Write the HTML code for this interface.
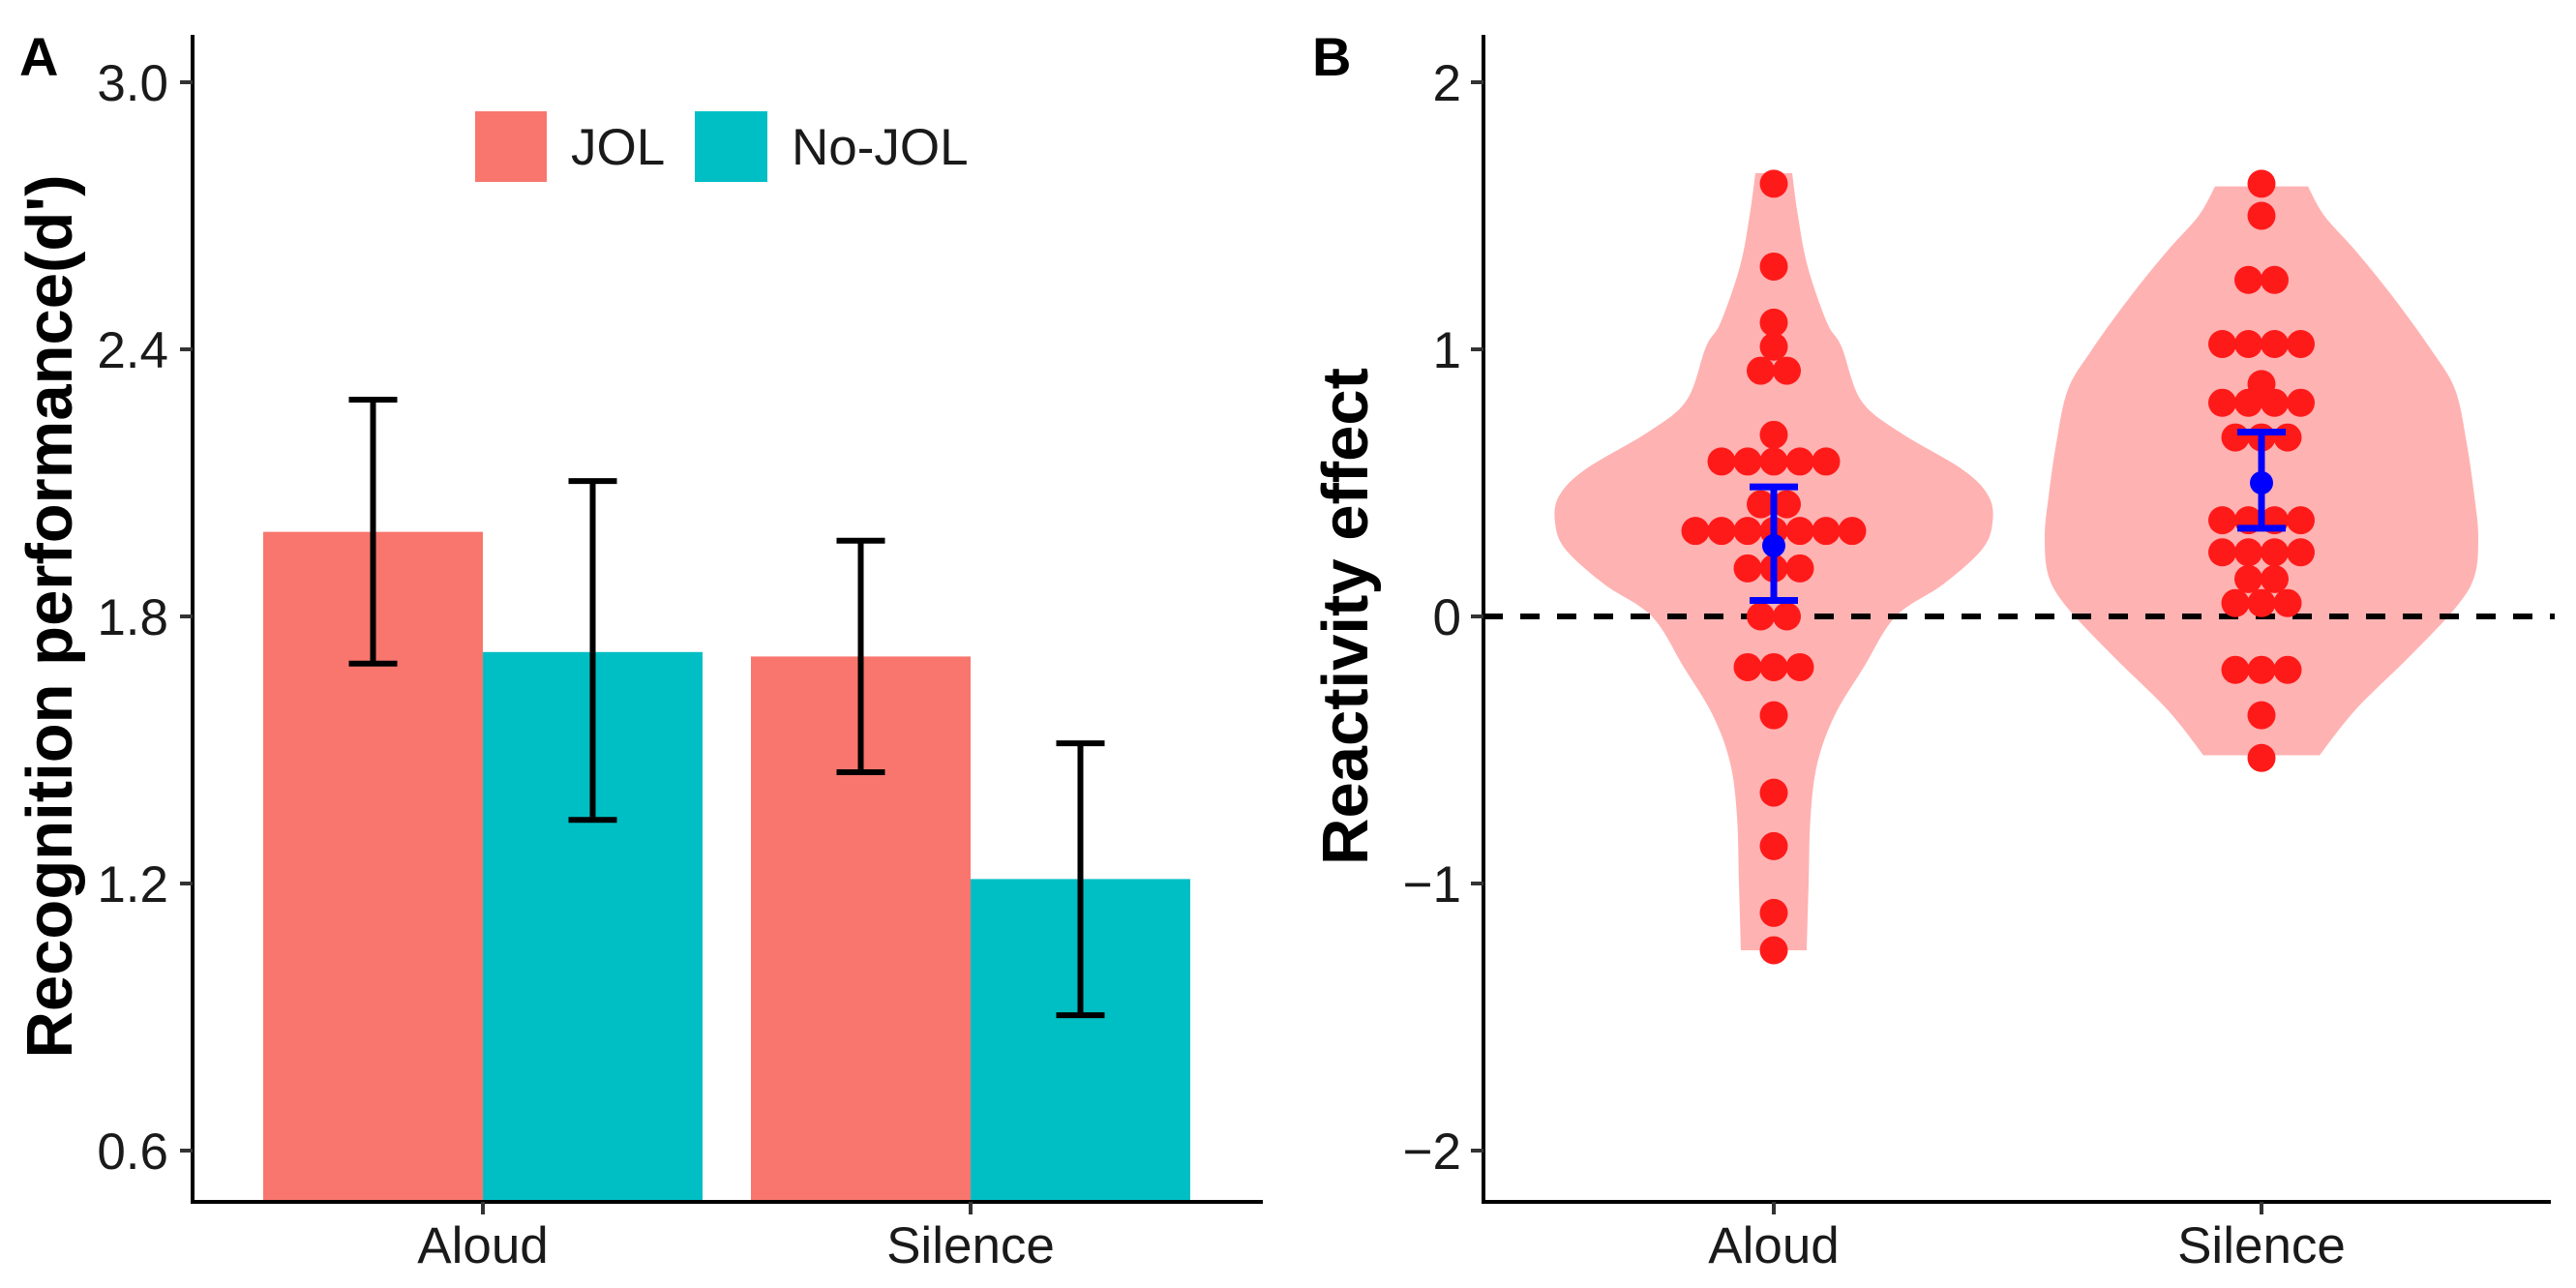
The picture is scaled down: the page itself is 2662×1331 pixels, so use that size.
<!DOCTYPE html>
<html><head><meta charset="utf-8"><style>
html,body{margin:0;padding:0;background:#fff;}
svg{display:block;font-family:"Liberation Sans",sans-serif;}
</style></head><body>
<svg id="fig" width="2662" height="1331" viewBox="0 0 2662 1331" xmlns="http://www.w3.org/2000/svg">
<g id="pa"></g>
<g id="pb"></g>
</svg>
<script>
// ---------- Panel A data ----------
const catsA = ["Aloud", "Silence"];
const seriesNames = ["JOL", "No-JOL"];
const jolVals = [1.99, 1.71];
const nojolVals = [1.72, 1.21];
const jolLo = [1.694, 1.45];
const jolHi = [2.287, 1.97];
const nojolLo = [1.343, 0.904];
const nojolHi = [2.104, 1.515];
const ticksA = [0.6, 1.2, 1.8, 2.4, 3.0];
const tickLabelsA = ["0.6", "1.2", "1.8", "2.4", "3.0"];

// ---------- Panel B data ----------
const catsB = ["Aloud", "Silence"];
const aloudDots = [1.62,1.31,1.10,1.01,0.92,0.92,0.68,0.58,0.58,0.58,0.58,0.58,0.42,0.42,0.32,0.32,0.32,0.32,0.32,0.32,0.32,0.18,0.18,0.18,0.0,0.0,-0.19,-0.19,-0.19,-0.37,-0.66,-0.86,-1.11,-1.25];
const silenceDots = [1.62,1.50,1.26,1.26,1.02,1.02,1.02,1.02,0.87,0.80,0.80,0.80,0.80,0.67,0.67,0.67,0.36,0.36,0.36,0.36,0.24,0.24,0.24,0.24,0.14,0.14,0.05,0.05,0.05,-0.20,-0.20,-0.20,-0.37,-0.53];
const means = [0.265, 0.50];
const meanLo = [0.06, 0.33];
const meanHi = [0.485, 0.69];
const aloudViolinY = [1.66,1.5,1.31,1.1,1.01,0.81,0.69,0.55,0.45,0.35,0.25,0.12,0.0,-0.19,-0.37,-0.55,-0.75,-1.0,-1.25];
const aloudViolinW = [19,25,35,55,70,90,130,195,222,226,215,175,126,93,63,45,38,36,34];
const silenceViolinY = [1.61,1.5,1.37,1.2,1.0,0.85,0.65,0.45,0.3,0.15,0.03,-0.15,-0.35,-0.52];
const silenceViolinW = [48,65,97,135,175,200,212,220,224,220,200,153,97,60];
const ticksB = [-2, -1, 0, 1, 2];
const tickLabelsB = ["\u22122", "\u22121", "0", "1", "2"];

const NS = "http://www.w3.org/2000/svg";
function mk(parent, tag, attrs, text) {
  const e = document.createElementNS(NS, tag);
  for (const k in attrs) e.setAttribute(k, attrs[k]);
  if (text !== undefined) e.textContent = text;
  parent.appendChild(e);
  return e;
}
const TXT = "#1a1a1a";

// ---------- Panel A ----------
const pa = document.getElementById("pa");
const yA = v => 637 - (v - 1.8) / 0.6 * 276;
const xCatA = [499, 1003];
const barW = 227;
for (let i = 0; i < catsA.length; i++) {
  const b1 = mk(pa, "rect", {x: xCatA[i] - barW, y: yA(jolVals[i]), width: barW, height: 1242 - yA(jolVals[i]), fill: "#F8766D"});
  
  
  const b2 = mk(pa, "rect", {x: xCatA[i], y: yA(nojolVals[i]), width: barW, height: 1242 - yA(nojolVals[i]), fill: "#00BFC4"});
  
  
}
function errbar(g, cx, lo, hi, yf, col, w, name) {
  const eg = mk(g, "g", {stroke: col, "stroke-width": w, fill: "none"});
  
  
  mk(eg, "line", {x1: cx, x2: cx, y1: yf(lo), y2: yf(hi)});
  mk(eg, "line", {x1: cx - 25, x2: cx + 25, y1: yf(lo), y2: yf(lo)});
  mk(eg, "line", {x1: cx - 25, x2: cx + 25, y1: yf(hi), y2: yf(hi)});
}
for (let i = 0; i < catsA.length; i++) {
  errbar(pa, xCatA[i] - barW / 2, jolLo[i], jolHi[i], yA, "#000", 6, 'errorbar-jol-' + catsA[i].toLowerCase());
  errbar(pa, xCatA[i] + barW / 2, nojolLo[i], nojolHi[i], yA, "#000", 6, 'errorbar-nojol-' + catsA[i].toLowerCase());
}
const axA = mk(pa, "path", {d: "M199,36 V1242 H1305", stroke: "#000", "stroke-width": 4, fill: "none"});


for (let i = 0; i < ticksA.length; i++) {
  const y = yA(ticksA[i]);
  mk(pa, "line", {x1: 186, x2: 199, y1: y, y2: y, stroke: "#333", "stroke-width": 4});
  const t = mk(pa, "text", {x: 174, y: y + 19, "text-anchor": "end", "font-size": 53, fill: TXT}, tickLabelsA[i]);
  
  
}
for (let i = 0; i < catsA.length; i++) {
  mk(pa, "line", {x1: xCatA[i], x2: xCatA[i], y1: 1242, y2: 1255, stroke: "#333", "stroke-width": 4});
  const t = mk(pa, "text", {x: xCatA[i], y: 1305, "text-anchor": "middle", "font-size": 53, fill: TXT}, catsA[i]);
  
  
}
const lg = mk(pa, "g", {});


const s1 = mk(lg, "rect", {x: 491, y: 115, width: 74, height: 73, fill: "#F8766D"});


const l1 = mk(lg, "text", {x: 590, y: 170, "font-size": 53, fill: TXT}, seriesNames[0]);


const s2 = mk(lg, "rect", {x: 718, y: 115, width: 75, height: 73, fill: "#00BFC4"});


const l2 = mk(lg, "text", {x: 818, y: 170, "font-size": 53, fill: TXT}, seriesNames[1]);


const ta = mk(pa, "text", {x: 0, y: 0, transform: "translate(74,637) rotate(-90)", "text-anchor": "middle", "font-size": 67, "font-weight": "bold", fill: "#000"}, "Recognition performance(d')");


const la = mk(pa, "text", {x: 20, y: 78, "font-size": 56, "font-weight": "bold", fill: "#000"}, "A");



// ---------- Panel B ----------
const pb = document.getElementById("pb");
const yB = v => 637 - v * 276;
const xCatB = [1833, 2337];
function smooth(pts) {
  // Catmull-Rom to cubic bezier
  let d = "M" + pts[0][0] + "," + pts[0][1];
  for (let i = 0; i < pts.length - 1; i++) {
    const p0 = pts[Math.max(0, i - 1)], p1 = pts[i], p2 = pts[i + 1], p3 = pts[Math.min(pts.length - 1, i + 2)];
    const c1 = [p1[0] + (p2[0] - p0[0]) / 6, p1[1] + (p2[1] - p0[1]) / 6];
    const c2 = [p2[0] - (p3[0] - p1[0]) / 6, p2[1] - (p3[1] - p1[1]) / 6];
    d += "C" + c1[0] + "," + c1[1] + " " + c2[0] + "," + c2[1] + " " + p2[0] + "," + p2[1];
  }
  return d;
}
function violinPath(cx, ys, ws) {
  const right = ys.map((y, i) => [cx + ws[i], yB(y)]);
  const left = ys.map((y, i) => [cx - ws[i], yB(y)]).reverse();
  const r = smooth(right);
  const l = smooth(left).replace(/^M/, "L");
  return r + l + "Z";
}
const v1 = mk(pb, "path", {d: violinPath(xCatB[0], aloudViolinY, aloudViolinW), fill: "#FFB2B2"});


const v2 = mk(pb, "path", {d: violinPath(xCatB[1], silenceViolinY, silenceViolinW), fill: "#FFB2B2"});


const zl = mk(pb, "line", {x1: 1533, x2: 2640, y1: yB(0), y2: yB(0), stroke: "#000", "stroke-width": 6, "stroke-dasharray": "20,18"});


function dots(cx, vals, name) {
  const groups = {};
  vals.forEach(v => { const k = v.toFixed(3); (groups[k] = groups[k] || []).push(v); });
  for (const k in groups) {
    const n = groups[k].length;
    groups[k].forEach((v, i) => {
      const c = mk(pb, "circle", {cx: cx + (i - (n - 1) / 2) * 27, cy: yB(v), r: 14.5, fill: "#FF1A1A"});
      
      
    });
  }
}
dots(xCatB[0], aloudDots, 'dot-aloud');
dots(xCatB[1], silenceDots, 'dot-silence');
for (let i = 0; i < catsB.length; i++) {
  errbar(pb, xCatB[i], meanLo[i], meanHi[i], yB, "#0000FF", 7, 'mean-ci-' + catsB[i].toLowerCase());
  const m = mk(pb, "circle", {cx: xCatB[i], cy: yB(means[i]), r: 12, fill: "#0000FF"});
  
  
}
const axB = mk(pb, "path", {d: "M1533,36 V1242 H2636", stroke: "#000", "stroke-width": 4, fill: "none"});


for (let i = 0; i < ticksB.length; i++) {
  const y = yB(ticksB[i]);
  mk(pb, "line", {x1: 1520, x2: 1533, y1: y, y2: y, stroke: "#333", "stroke-width": 4});
  const t = mk(pb, "text", {x: 1510, y: y + 19, "text-anchor": "end", "font-size": 53, fill: TXT}, tickLabelsB[i]);
  
  
}
for (let i = 0; i < catsB.length; i++) {
  mk(pb, "line", {x1: xCatB[i], x2: xCatB[i], y1: 1242, y2: 1255, stroke: "#333", "stroke-width": 4});
  const t = mk(pb, "text", {x: xCatB[i], y: 1305, "text-anchor": "middle", "font-size": 53, fill: TXT}, catsB[i]);
  
  
}
const tb = mk(pb, "text", {x: 0, y: 0, transform: "translate(1413,637) rotate(-90)", "text-anchor": "middle", "font-size": 67, "font-weight": "bold", fill: "#000"}, "Reactivity effect");


const lb = mk(pb, "text", {x: 1356, y: 78, "font-size": 56, "font-weight": "bold", fill: "#000"}, "B");


</script>
</body></html>
